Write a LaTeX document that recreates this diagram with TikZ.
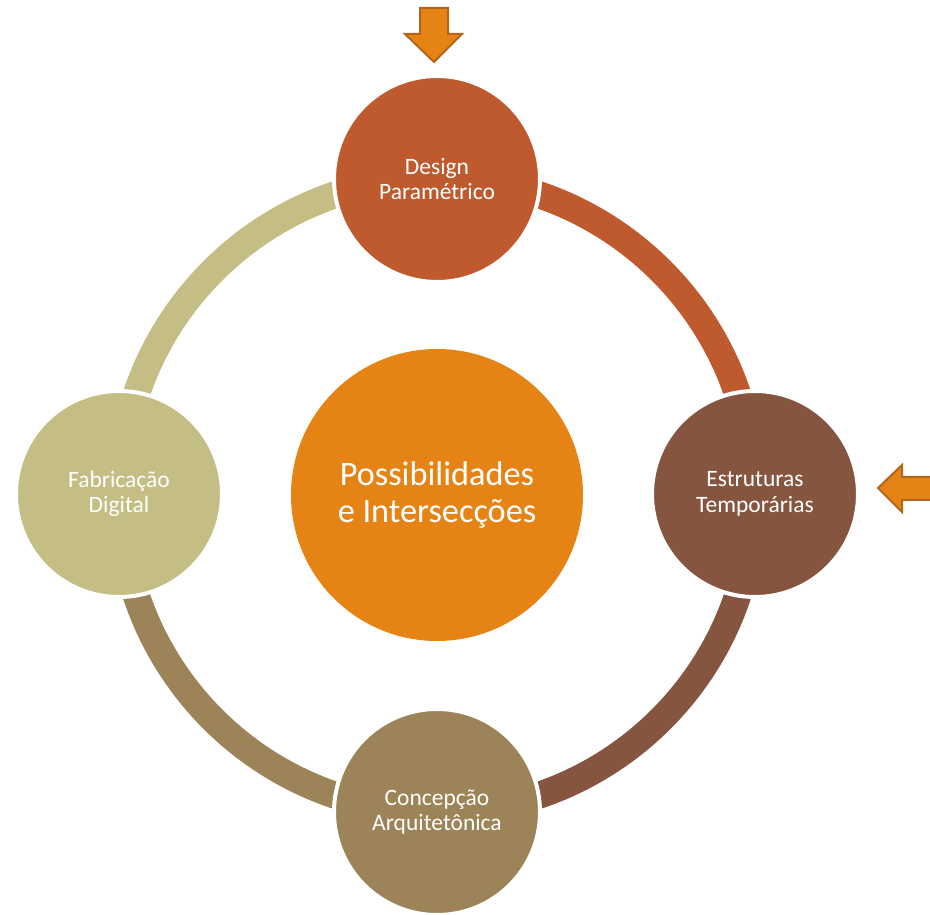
\documentclass[tikz,border=0pt]{standalone}
\usepackage{fontspec}
\setmainfont{Carlito}
\definecolor{ctop}{HTML}{BE5A2D}
\definecolor{cright}{HTML}{86553F}
\definecolor{cbottom}{HTML}{9C8358}
\definecolor{cleft}{HTML}{C4BE84}
\definecolor{ccenter}{HTML}{E58415}
\definecolor{carrowborder}{HTML}{B3651C}
\begin{document}
\begin{tikzpicture}[x=1pt,y=1pt,
  ringarc/.style={line width=27pt,line cap=butt},
  outer/.style={circle,minimum size=206pt,inner sep=0pt,draw=white,line width=4pt,text=white,align=center,font=\fontsize{23.5}{25.6}\selectfont},
  centre/.style={circle,minimum size=292pt,inner sep=0pt,fill=ccenter,text=white,align=center,font=\fontsize{34.3}{36.7}\selectfont},
  blockarrow/.style={fill=ccenter,draw=carrowborder,line width=2pt,line join=miter}]
\useasboundingbox (0,0) rectangle (930,914);
\coordinate (O) at (437,419);
% ring arcs
\draw[ringarc,ctop] (O) ++(90:317) arc[start angle=90,end angle=0,radius=317];
\draw[ringarc,cright] (O) ++(0:317) arc[start angle=0,end angle=-90,radius=317];
\draw[ringarc,cbottom] (O) ++(-90:317) arc[start angle=-90,end angle=-180,radius=317];
\draw[ringarc,cleft] (O) ++(180:317) arc[start angle=180,end angle=90,radius=317];
% circles
\node[centre] (c) at (O) {Possibilidades\\e Intersecções};
\node[outer,fill=ctop] (t) at (437,735) {Design\\Paramétrico};
\node[outer,fill=cright] (r) at (755,420) {Estruturas\\Temporárias};
\node[outer,fill=cbottom] (b) at (437,102) {Concepção\\Arquitetônica};
\node[outer,fill=cleft] (l) at (119,420) {Fabricação\\Digital};
% arrows
\draw[blockarrow] (420,906) -- (448,906) -- (448,880) -- (462,880) -- (434,852) -- (405,880) -- (420,880) -- cycle;
\draw[blockarrow] (878,426) -- (902,449) -- (902,437) -- (933,437) -- (933,414) -- (902,414) -- (902,402) -- cycle;
\end{tikzpicture}
\end{document}
